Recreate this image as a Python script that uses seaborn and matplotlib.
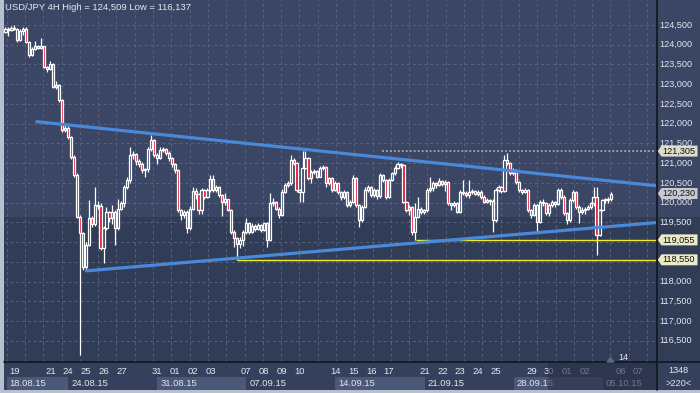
import numpy as np
import pandas as pd
import seaborn as sns
import matplotlib.pyplot as plt
from matplotlib.patches import Rectangle, Polygon
from matplotlib.lines import Line2D

# USD/JPY 4H, candles de 18.08.15 a 05.10.15
first_open = 124.33
closes = [
    124.40, 124.38, 124.43, 124.41, 124.12, 124.36, 124.40, 124.08, 123.75, 123.90,
    123.96, 123.92, 123.97, 123.44, 123.38, 123.52, 122.94, 122.98, 122.60, 121.84,
    121.90, 121.67, 121.16, 120.70, 119.64, 119.22, 118.38, 118.93, 119.60, 119.45,
    119.95, 119.92, 118.84, 119.35, 119.77, 119.60, 119.77, 119.35, 119.85, 119.98,
    120.40, 120.57, 121.20, 121.22, 121.05, 120.99, 120.82, 120.84, 121.37, 121.59,
    121.21, 121.12, 121.33, 121.36, 121.25, 121.12, 120.99, 120.82, 119.81, 119.68,
    119.76, 119.35, 119.85, 120.30, 120.22, 119.80, 120.32, 120.15, 120.31, 120.61,
    120.32, 120.40, 120.19, 120.02, 120.08, 119.82, 119.26, 119.09, 118.96, 119.05,
    119.26, 119.47, 119.26, 119.40, 119.32, 119.43, 119.30, 119.47, 119.05, 119.98,
    120.02, 119.85, 119.68, 120.28, 120.45, 120.49, 121.08, 121.00, 120.32, 120.28,
    120.87, 121.12, 120.62, 120.78, 120.80, 120.66, 120.87, 120.90, 120.49, 120.62,
    120.32, 120.49, 120.28, 120.15, 120.28, 119.94, 120.02, 120.62, 119.94, 119.56,
    119.90, 120.32, 120.40, 120.19, 120.32, 120.16, 120.70, 120.57, 120.15, 120.57,
    120.74, 120.87, 120.99, 120.95, 120.02, 119.81, 119.90, 119.26, 119.64, 119.85,
    119.77, 119.80, 120.32, 120.36, 120.49, 120.45, 120.55, 120.46, 120.52, 119.98,
    119.94, 119.98, 119.77, 120.28, 120.24, 120.19, 120.28, 120.30, 120.22, 120.27,
    120.15, 120.02, 120.07, 120.05, 119.56, 120.32, 120.40, 120.30, 121.08, 121.00,
    120.74, 120.82, 120.53, 120.32, 120.28, 120.32, 119.81, 119.69, 119.94, 119.52,
    120.02, 119.98, 119.73, 119.94, 120.02, 119.96, 120.32, 120.15, 119.73, 119.56,
    120.07, 120.28, 119.90, 119.77, 119.82, 119.85, 119.90, 119.98, 120.15, 119.18,
    119.81, 120.07, 120.07, 120.09, 120.23]
highs = [
    124.46, 124.44, 124.48, 124.51, 124.43, 124.40, 124.44, 124.46, 124.10, 123.94,
    124.10, 124.00, 124.16, 123.98, 123.47, 123.58, 123.54, 123.08, 123.00, 122.62,
    122.00, 121.94, 121.70, 121.20, 120.74, 119.68, 119.25, 119.00, 120.07, 119.66,
    120.40, 120.05, 119.98, 119.40, 119.90, 119.78, 119.95, 119.80, 120.10, 120.05,
    120.45, 120.65, 121.42, 121.30, 121.25, 121.10, 121.02, 120.88, 121.42, 121.71,
    121.62, 121.25, 121.40, 121.42, 121.38, 121.30, 121.15, 121.00, 120.85, 119.85,
    119.82, 119.80, 119.92, 120.40, 120.38, 120.25, 120.38, 120.34, 120.36, 120.70,
    120.70, 120.45, 120.42, 120.22, 120.25, 120.10, 119.85, 119.30, 119.12, 119.12,
    119.30, 119.60, 119.52, 119.48, 119.45, 119.48, 119.46, 119.52, 119.50, 120.25,
    120.12, 120.05, 119.88, 120.35, 120.50, 120.55, 121.20, 121.12, 121.03, 120.35,
    121.31, 121.30, 121.15, 120.82, 120.85, 120.82, 120.92, 120.95, 120.92, 120.66,
    120.66, 120.55, 120.52, 120.30, 120.32, 120.30, 120.06, 120.70, 120.64, 119.96,
    119.95, 120.40, 120.45, 120.42, 120.36, 120.35, 120.76, 120.72, 120.60, 120.62,
    120.78, 120.92, 121.02, 121.00, 120.97, 120.05, 119.95, 119.92, 119.98, 120.15,
    119.88, 119.85, 120.38, 120.66, 120.55, 120.52, 120.62, 120.58, 120.56, 120.54,
    120.00, 120.05, 120.02, 120.32, 120.57, 120.30, 120.57, 120.34, 120.33, 120.31,
    120.32, 120.18, 120.12, 120.10, 120.08, 120.36, 120.45, 120.42, 121.20, 121.25,
    121.02, 120.88, 120.85, 120.55, 120.35, 120.38, 120.34, 119.84, 119.98, 119.96,
    120.07, 120.10, 120.02, 119.98, 120.07, 120.05, 120.36, 120.36, 120.18, 119.76,
    120.12, 120.32, 120.30, 119.94, 119.88, 119.90, 119.95, 120.02, 120.40, 120.40,
    119.85, 120.10, 120.12, 120.14, 120.28]
lows = [
    124.30, 124.22, 124.35, 124.37, 124.08, 124.10, 124.24, 124.05, 123.70, 123.72,
    123.86, 123.88, 123.90, 123.40, 123.32, 123.36, 122.90, 122.88, 122.55, 121.80,
    121.78, 121.60, 121.10, 120.65, 119.60, 116.14, 118.30, 118.27, 118.90, 119.38,
    119.40, 119.85, 118.80, 118.46, 119.30, 119.52, 119.45, 118.93, 119.30, 119.80,
    119.90, 120.35, 120.50, 121.10, 120.95, 120.90, 120.75, 120.65, 120.78, 121.30,
    121.15, 120.98, 121.10, 121.28, 121.20, 121.05, 120.90, 120.75, 119.75, 119.55,
    119.62, 119.22, 119.30, 119.80, 120.10, 119.70, 119.72, 120.08, 120.12, 120.28,
    120.28, 120.28, 120.15, 119.65, 119.95, 119.78, 119.20, 118.88, 118.55, 118.85,
    118.90, 119.20, 119.20, 119.24, 119.28, 119.30, 119.25, 119.28, 118.88, 119.02,
    119.92, 119.80, 119.60, 119.65, 120.25, 120.40, 120.45, 120.95, 120.28, 120.02,
    120.02, 120.85, 120.58, 120.49, 120.72, 120.62, 120.64, 120.83, 120.40, 120.45,
    120.28, 120.30, 120.22, 120.07, 120.10, 119.88, 119.90, 119.98, 119.90, 119.39,
    119.50, 119.86, 120.28, 120.15, 120.15, 120.10, 120.12, 120.52, 120.10, 120.12,
    120.55, 120.70, 120.85, 120.88, 119.98, 119.76, 119.69, 119.18, 119.06, 119.60,
    119.70, 119.72, 119.76, 120.28, 120.30, 120.36, 120.42, 120.42, 120.30, 119.94,
    119.81, 119.90, 119.73, 119.74, 120.20, 120.15, 120.12, 120.22, 120.18, 120.16,
    120.10, 119.98, 119.98, 119.95, 119.26, 119.52, 120.28, 120.25, 120.28, 120.95,
    120.70, 120.70, 120.48, 120.28, 120.22, 120.25, 119.76, 119.60, 119.65, 119.26,
    119.48, 119.92, 119.68, 119.66, 119.88, 119.90, 119.94, 120.10, 119.68, 119.45,
    119.52, 120.02, 119.85, 119.48, 119.70, 119.72, 119.80, 119.85, 119.92, 118.67,
    119.15, 119.78, 120.00, 119.98, 120.05]

# linhas do triangulo (indice do candle, preco)
upper_x = [10.5, 218.7]
upper_y = [122.05, 120.43]
lower_x = [27.3, 218.7]
lower_y = [118.27, 119.49]

# niveis horizontais
support_levels = [118.550, 119.055]
support_start = [78.1, 138.2]
high_level = 121.305
high_start = 126.8
last_price = 120.230

# 118,500 e 119,000 ficam escondidos pelas etiquetas no original
price_ticks = [116.5, 117.0, 117.5, 118.0, 119.5, 120.0, 120.5,
               121.0, 121.5, 122.0, 122.5, 123.0, 123.5, 124.0, 124.5]
grid_levels = [116.5, 117.0, 117.5, 118.0, 118.5, 119.0, 119.5, 120.0, 120.5,
               121.0, 121.5, 122.0, 122.5, 123.0, 123.5, 124.0, 124.5]
day_labels = ['19', '21', '24', '25', '26', '27', '31', '01', '02', '03', '07', '08', '09', '10',
              '14', '15', '16', '17', '21', '22', '23', '24', '25', '29', '30', '01', '02', '06', '07']
day_nums = [1, 3, 4, 5, 6, 7, 9, 10, 11, 12, 14, 15, 16, 17,
            19, 20, 21, 22, 24, 25, 26, 27, 28, 30, 31, 32, 33, 35, 36]
week_labels = ['18.08.15', '24.08.15', '31.08.15', '07.09.15', '14.09.15', '21.09.15', '28.09.15', '05.10.15']
week_days = [0, 4, 9, 14, 19, 24, 29, 34]

# cores
bg_top = '#3a4664'
bg_low = '#313c57'
grid_c = '#56627f'
txt_c = '#e2e7ef'
red_c = '#e3122c'

sns.set_theme(style='dark')
plt.rcParams['font.family'] = ['Liberation Sans', 'DejaVu Sans']

W, H = 700, 393
def fx(px):
    return px / W
def fy(py):
    return 1 - py / H

XMIN, XMAX = -0.505, 219.36
YMIN, YMAX = 115.96, 125.134
BAND = 119.634

fig = plt.figure(figsize=(7, 3.93), dpi=100, facecolor='#b6c0cf')

# ---- grafico principal
ax = fig.add_axes([fx(4), fy(362), (657 - 4) / W, 362 / H])
ax.set_facecolor(bg_low)
ax.axhspan(BAND, 130, color=bg_top, zorder=0, lw=0)
for p in grid_levels:
    ax.axhline(p, color=grid_c, lw=0.7, ls=(0, (3, 3)), zorder=1)
for k in range(36):
    ax.axvline(0.4 + 6.16 * k, color=grid_c, lw=0.7, ls=(0, (3, 3)), zorder=1)

df = pd.DataFrame({'o': [first_open] + closes[:-1], 'h': highs, 'l': lows, 'c': closes})
df['j'] = np.arange(len(df))
for _, r in df.iterrows():
    top = max(r.o, r.c)
    bot = min(r.o, r.c)
    ax.vlines(r.j, top, r.h, color='white', lw=0.9, zorder=3)
    ax.vlines(r.j, r.l, bot, color='white', lw=0.9, zorder=3)
    fc = red_c if r.c < r.o else 'none'
    ax.add_patch(Rectangle((r.j - 0.36, bot), 0.72, max(top - bot, 0.012),
                           facecolor=fc, edgecolor='white', lw=0.9, zorder=3))

for lv, st in zip(support_levels, support_start):
    ax.hlines(lv, st, XMAX, color='#f2f022', lw=1.0, zorder=4)
ax.hlines(high_level, high_start, XMAX, color='#a3aab8', lw=1.3, ls=(0, (1, 1.2)), zorder=4)

sns.lineplot(x=upper_x, y=upper_y, ax=ax, color='#4a88da', lw=2.3, zorder=5)
sns.lineplot(x=lower_x, y=lower_y, ax=ax, color='#4a88da', lw=2.3, zorder=5)

ax.set_xlim(XMIN, XMAX)
ax.set_ylim(YMIN, YMAX)
ax.set_xticks([])
ax.set_yticks([])
ax.set_xlabel('')
ax.set_ylabel('')
for s in ax.spines.values():
    s.set_visible(False)

fig.text(fx(5), fy(8), 'USD/JPY 4H High = 124,509 Low = 116,137', color=txt_c,
         fontsize=6.8, ha='left', va='center')

# marcador 14
fig.patches.append(Polygon([[fx(607), fy(362)], [fx(610.5), fy(357.5)], [fx(614), fy(362)]],
                           closed=True, transform=fig.transFigure, color='#5b6883', zorder=6))
fig.text(fx(618), fy(357), '14', color=txt_c, fontsize=6.6, ha='left', va='center')

# ---- escala de precos
ar = fig.add_axes([fx(657), fy(362), 43 / W, 362 / H])
ar.set_facecolor(bg_low)
ar.axhspan(BAND, 130, color=bg_top, zorder=0, lw=0)
ar.set_xlim(0, 43)
ar.set_ylim(YMIN, YMAX)
ar.set_xticks([])
ar.set_yticks([])
for s in ar.spines.values():
    s.set_visible(False)
for p in price_ticks:
    ar.text(2.3, p, f'{p:.3f}'.replace('.', ','), color=txt_c, fontsize=6.6, ha='left', va='center')

hh = 5.5 / 39.46
boxes = [(high_level, '#dedccb'), (last_price, '#c6cad0'),
         (support_levels[1], '#ecebc7'), (support_levels[0], '#ecebc7')]
for p, col in boxes:
    ar.add_patch(Polygon([[0.8, p], [4.5, p + hh], [40.5, p + hh], [40.5, p - hh], [4.5, p - hh]],
                         closed=True, facecolor=col, edgecolor='none', zorder=5))
    ar.text(5.0, p, f'{p:.3f}'.replace('.', ','), color='#111111', fontsize=6.6,
            ha='left', va='center', zorder=6)

# ---- eixo de datas
ab = fig.add_axes([fx(4), fy(390), (657 - 4) / W, 28 / H])
ab.set_facecolor('#35415c')
ab.set_xlim(XMIN, XMAX)
ab.set_ylim(28, 0)
ab.set_xticks([])
ab.set_yticks([])
for s in ab.spines.values():
    s.set_visible(False)

starts = [max(6 * d - 2.9, 0.4) for d in week_days]
for i, lab in enumerate(week_labels):
    end = starts[i + 1] if i + 1 < len(starts) else XMAX
    if i % 2 == 0:
        ab.add_patch(Rectangle((starts[i], 15), end - starts[i], 13, facecolor='#4b5877',
                               edgecolor='none', zorder=1))
    ab.text(starts[i] + 1.0, 21.5, lab, color=txt_c, fontsize=6.8, ha='left', va='center', zorder=2)
for lab, d in zip(day_labels, day_nums):
    ab.text(6 * d - 2.9, 9.5, lab, color=txt_c, fontsize=6.8, ha='center', va='center', zorder=2)
# area escurecida no fim da escala
ab.add_patch(Rectangle((182.7, 0), XMAX - 182.7, 28, facecolor='#283147', alpha=0.62,
                       edgecolor='none', zorder=3))

# ---- canto inferior direito
ac = fig.add_axes([fx(657), fy(390), 43 / W, 28 / H])
ac.set_facecolor('#35415c')
ac.set_xlim(0, 43)
ac.set_ylim(28, 0)
ac.set_xticks([])
ac.set_yticks([])
for s in ac.spines.values():
    s.set_visible(False)
ac.text(21.5, 8.5, '1348', color=txt_c, fontsize=6.6, ha='center', va='center')
ac.text(21.5, 21.5, '>220<', color=txt_c, fontsize=6.6, ha='center', va='center')

# separadores
fig.add_artist(Line2D([fx(657), fx(657)], [fy(0), fy(390)], transform=fig.transFigure,
                      color='#11161f', lw=1.2))
fig.add_artist(Line2D([fx(4), 1], [fy(362), fy(362)], transform=fig.transFigure,
                      color='#11161f', lw=1.2))

fig.savefig('out.png', dpi=100, facecolor=fig.get_facecolor())
